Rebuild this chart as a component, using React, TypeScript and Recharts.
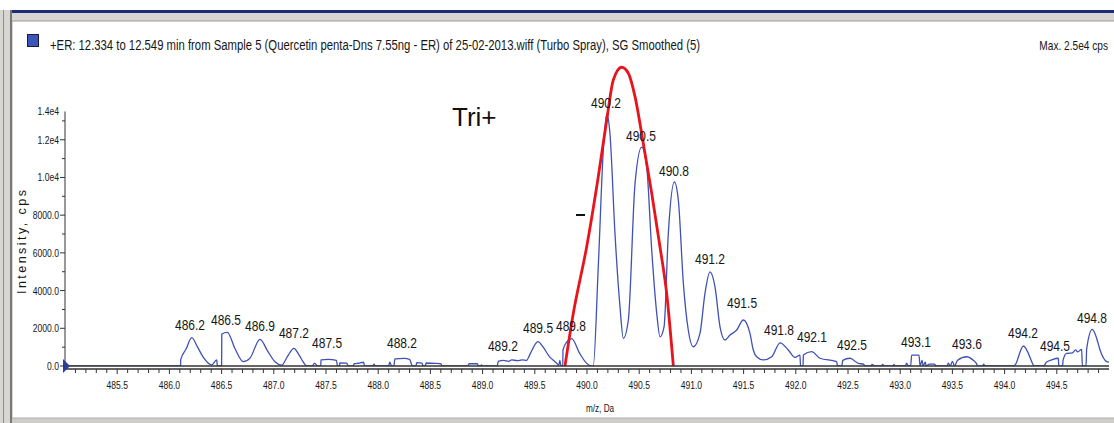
import React from 'react';
import {
  ComposedChart,
  Line,
  Scatter,
  XAxis,
  YAxis,
  ReferenceLine,
  ReferenceDot,
} from 'recharts';

// smoothed spectrum, [m/z, cps]
const spectrum: [number, number][] = [
  [485.0, 0], [486.107, 0], [486.108, 320], [486.16, 900], [486.214, 1500], [486.27, 1000],
  [486.322, 490], [486.405, 60], [486.453, 320], [486.46, 0], [486.5, 0], [486.502, 1700],
  [486.555, 1780], [486.63, 900], [486.708, 230], [486.772, 420], [486.868, 1410], [486.94, 800],
  [487.011, 230], [487.076, 50], [487.13, 500], [487.193, 940], [487.24, 600], [487.28, 230],
  [487.315, 0], [487.37, 0], [487.39, 150], [487.42, 0], [487.45, 0], [487.452, 330],
  [487.52, 350], [487.6, 300], [487.61, 0], [487.63, 0], [487.632, 160], [487.7, 150],
  [487.71, 0], [487.76, 0], [487.77, 120], [487.82, 150], [487.86, 200], [487.87, 0],
  [487.95, 0], [487.96, 100], [487.97, 0], [488.1, 0], [488.11, 200], [488.13, 0],
  [488.15, 0], [488.16, 380], [488.25, 400], [488.3, 350], [488.33, 0], [488.36, 0],
  [488.37, 180], [488.42, 150], [488.43, 0], [488.45, 0], [488.46, 160], [488.55, 140],
  [488.6, 120], [488.61, 0], [488.86, 0], [488.87, 120], [488.95, 120], [488.96, 0],
  [488.98, 0], [488.99, 60], [489.0, 0], [489.14, 0], [489.15, 250], [489.2, 300],
  [489.25, 250], [489.28, 330], [489.33, 280], [489.38, 320], [489.42, 300], [489.46, 700],
  [489.53, 1290], [489.58, 1000], [489.64, 500], [489.7, 200], [489.73, 50], [489.74, 300],
  [489.75, 0], [489.768, 0], [489.77, 850], [489.81, 1300], [489.853, 1450], [489.93, 670],
  [489.997, 140], [490.04, 0], [490.06, 0], [490.108, 5260], [490.156, 11430], [490.189, 13380],
  [490.22, 12320], [490.268, 7030], [490.316, 3140], [490.348, 1470], [490.396, 2440], [490.46, 9670],
  [490.524, 11610], [490.572, 10550], [490.62, 6140], [490.668, 2790], [490.699, 1550], [490.738, 2080],
  [490.779, 7030], [490.837, 9760], [490.875, 8790], [490.923, 4380], [490.97, 1910], [491.018, 1020],
  [491.082, 1730], [491.13, 3850], [491.178, 4990], [491.226, 4200], [491.274, 2080], [491.322, 1380],
  [491.37, 1640], [491.434, 1910], [491.497, 2440], [491.561, 1730], [491.593, 850], [491.625, 490],
  [491.689, 320], [491.769, 490], [491.849, 1230], [491.928, 850], [491.992, 460], [492.04, 580],
  [492.045, 0], [492.07, 0], [492.072, 580], [492.152, 760], [492.232, 410], [492.391, 230],
  [492.4, 0], [492.44, 0], [492.45, 300], [492.519, 410], [492.599, 140], [492.65, 100],
  [492.66, 0], [492.72, 0], [492.73, 80], [492.76, 0], [492.82, 0], [492.83, 80],
  [492.85, 0], [492.93, 0], [492.94, 80], [492.95, 0], [493.05, 0], [493.06, 150],
  [493.08, 0], [493.1, 0], [493.11, 580], [493.18, 580], [493.19, 0], [493.21, 300],
  [493.22, 0], [493.24, 200], [493.25, 0], [493.28, 100], [493.33, 100], [493.34, 0],
  [493.45, 0], [493.46, 150], [493.48, 0], [493.5, 250], [493.52, 0], [493.55, 300],
  [493.637, 490], [493.7, 300], [493.733, 100], [493.74, 0], [493.79, 0], [493.8, 100],
  [493.81, 0], [494.09, 0], [494.1, 50], [494.18, 1060], [494.275, 50], [494.28, 0],
  [494.37, 0], [494.387, 80], [494.4, 200], [494.45, 320], [494.514, 410], [494.52, 0],
  [494.555, 0], [494.56, 300], [494.594, 670], [494.65, 700], [494.68, 850], [494.7, 750],
  [494.738, 880], [494.745, 0], [494.78, 0], [494.786, 900], [494.84, 1940], [494.88, 1500],
  [494.914, 850], [494.978, 230], [495.0, 200],
];

// red hand-drawn envelope over the Tri+ cluster
const envelope: [number, number][] = [
  [489.789, 0], [489.869, 2796], [489.997, 6329], [490.108, 10042], [490.189, 13050],
  [490.252, 15172], [490.332, 15846], [490.396, 15528], [490.46, 14286], [490.539, 11814],
  [490.62, 9162], [490.699, 6329], [490.763, 3857], [490.827, 0],
];

// peak annotations: label position (m/z, cps) and text
const peakMz = [
  486.197, 486.542, 486.868, 487.193, 487.51, 488.228, 489.195, 489.531, 489.847, 490.182, 490.517,
  490.833, 491.178, 491.485, 491.839, 492.155, 492.538, 493.151, 493.64, 494.176, 494.483, 494.837,
];
const peakCps = [
  1910, 2175, 1857, 1485, 955, 955, 796, 1751, 1857, 13687, 11936,
  10080, 5411, 3077, 1645, 1273, 849, 1008, 902, 1485, 796, 2281,
];
const peakText = [
  '486.2', '486.5', '486.9', '487.2', '487.5', '488.2', '489.2', '489.5', '489.8', '490.2', '490.5',
  '490.8', '491.2', '491.5', '491.8', '492.1', '492.5', '493.1', '493.6', '494.2', '494.5', '494.8',
];

const xTickLabels = [
  '485.5', '486.0', '486.5', '487.0', '487.5', '488.0', '488.5', '489.0', '489.5', '490.0',
  '490.5', '491.0', '491.5', '492.0', '492.5', '493.0', '493.5', '494.0', '494.5',
];
const yTickValues = [0, 2000, 4000, 6000, 8000, 10000, 12000, 13500];
const yTickLabels = ['0.0', '2000.0', '4000.0', '6000.0', '8000.0', '1.0e4', '1.2e4', '1.4e4'];
const yMinorTicks = [1000, 3000, 5000, 7000, 9000, 11000, 13000];

const spectrumData = spectrum.map(([mz, cps]) => ({ mz, cps }));
const envelopeData = envelope.map(([mz, cps]) => ({ mz, cps }));
const labelData = peakMz.map((mz, i) => ({ mz, cps: peakCps[i], text: peakText[i] }));

const xTicks: number[] = [];
for (let k = 1; k < 100; k++) xTicks.push(Math.round((485 + k * 0.1) * 10) / 10);
const yTicks = [...yTickValues, ...yMinorTicks].sort((a, b) => a - b);

const FONT = '"Liberation Sans", Arial, sans-serif';
const INK = '#161616';

const XTick = (props: any) => {
  const { x, y, payload } = props;
  const v = payload.value;
  const lbl = xTickLabels.find((s) => Math.abs(Number(s) - v) < 1e-6);
  return (
    <g>
      <line x1={x} x2={x} y1={y} y2={y + (lbl ? 5 : 4)} stroke='#333' />
      {lbl && (
        <text
          transform={`translate(${x},${y + 20}) scale(0.78,1)`}
          textAnchor='middle'
          fontSize={11}
          fontFamily={FONT}
          fill={INK}
        >
          {lbl}
        </text>
      )}
    </g>
  );
};

const YTick = (props: any) => {
  const { x, y, payload } = props;
  const idx = yTickValues.indexOf(payload.value);
  if (idx < 0) {
    return <line x1={x - 3} x2={x} y1={y} y2={y} stroke='#333' />;
  }
  const top = payload.value === 13500;
  return (
    <g>
      {!top && <line x1={x - 5} x2={x} y1={y} y2={y} stroke='#333' />}
      <text
        transform={`translate(${x - 6},${y + 4}) scale(0.78,1)`}
        textAnchor='end'
        fontSize={11}
        fontFamily={FONT}
        fill={INK}
      >
        {yTickLabels[idx]}
      </text>
    </g>
  );
};

const PeakLabel = (props: any) => {
  const { cx, cy, payload } = props;
  return (
    <text
      transform={`translate(${cx},${cy}) scale(0.8,1)`}
      textAnchor='middle'
      fontSize={15}
      fontFamily={FONT}
      fill={INK}
    >
      {payload.text}
    </text>
  );
};

const OriginMark = (props: any) => {
  const { cx, cy } = props;
  return <path d={`M${cx - 2},${cy - 7} L${cx + 5},${cy} L${cx - 2},${cy + 7} Z`} fill='#2a3d9c' />;
};

function Frame() {
  return (
    <svg width={1114} height={423} style={{ position: 'absolute', left: 0, top: 0 }}>
      <rect x={0} y={0} width={1114} height={423} fill='#fff' />
      {/* window chrome */}
      <rect x={0} y={10} width={13} height={413} fill='#d8d6d2' />
      <line x1={3.5} y1={10} x2={3.5} y2={423} stroke='#8c8c8c' />
      <line x1={11} y1={10} x2={11} y2={423} stroke='#777' strokeWidth={2} />
      <rect x={12} y={10} width={1102} height={3} fill='#1e2b7a' />
      <rect x={12} y={13} width={1102} height={8} fill='#d8d6d2' />
      <line x1={12} y1={21} x2={1114} y2={21} stroke='#9a9a9a' />
      <rect x={12} y={418} width={1102} height={5} fill='#cfcdc9' />
      <line x1={12} y1={418} x2={1114} y2={418} stroke='#b0b0b0' />
      {/* header */}
      <rect x={27.5} y={34.5} width={11} height={12} fill='#3b55b8' stroke='#1b1b3a' />
      <text x={50} y={50} fontSize={14} fontFamily={FONT} fill={INK} textLength={650} lengthAdjust='spacingAndGlyphs'>
        +ER: 12.334 to 12.549 min from Sample 5 (Quercetin penta-Dns 7.55ng - ER) of 25-02-2013.wiff (Turbo Spray), SG Smoothed (5)
      </text>
      <text transform='translate(1108,50) scale(0.78,1)' textAnchor='end' fontSize={13} fontFamily={FONT} fill={INK}>
        Max. 2.5e4 cps
      </text>
      {/* annotations */}
      <text x={452} y={126} fontSize={26} fontFamily={FONT} fill='#111'>
        Tri+
      </text>
      <line x1={576} x2={585} y1={215} y2={215} stroke='#111' strokeWidth={2} />
      {/* axis titles */}
      <text
        x={0}
        y={0}
        transform='translate(26,242) rotate(-90)'
        textAnchor='middle'
        fontSize={12.5}
        fontFamily={FONT}
        fill={INK}
        textLength={104}
        lengthAdjust='spacing'
      >
        Intensity, cps
      </text>
      <text transform='translate(600,412) scale(0.82,1)' textAnchor='middle' fontSize={10} fontFamily={FONT} fill={INK}>
        m/z, Da
      </text>
    </svg>
  );
}

export default function App() {
  return (
    <div style={{ position: 'absolute', left: 0, top: 0, width: 1114, height: 423, overflow: 'hidden' }}>
      <Frame />
      <ComposedChart
        width={1114}
        height={423}
        margin={{ top: 60, right: 5, bottom: 21, left: 0 }}
        style={{ position: 'absolute', left: 0, top: 0 }}
      >
        <XAxis
          xAxisId='line'
          type='number'
          dataKey='mz'
          domain={[485, 495]}
          allowDataOverflow
          height={3}
          tick={false}
          tickLine={false}
          axisLine={{ stroke: '#333', strokeWidth: 1.5 }}
        />
        <XAxis
          xAxisId='ticks'
          type='number'
          dataKey='mz'
          domain={[485, 495]}
          allowDataOverflow
          height={33}
          ticks={xTicks}
          interval={0}
          tickSize={0}
          tickMargin={0}
          tickLine={false}
          tick={<XTick />}
          axisLine={{ stroke: '#333', strokeWidth: 1.5 }}
        />
        <YAxis
          type='number'
          dataKey='cps'
          domain={[0, 16230]}
          allowDataOverflow
          width={65}
          ticks={yTicks}
          interval={0}
          tickSize={0}
          tickMargin={0}
          tickLine={false}
          axisLine={false}
          tick={<YTick />}
        />
        <ReferenceLine
          xAxisId='line'
          segment={[{ x: 485, y: 0 }, { x: 485, y: 13500 }]}
          stroke='#333'
        />
        <Line
          xAxisId='line'
          data={spectrumData}
          dataKey='cps'
          type='monotone'
          stroke='#3f51b5'
          strokeWidth={1.3}
          dot={false}
          isAnimationActive={false}
        />
        <Line
          xAxisId='line'
          data={envelopeData}
          dataKey='cps'
          type='monotone'
          stroke='#e8141b'
          strokeWidth={2.8}
          dot={false}
          isAnimationActive={false}
        />
        <Scatter
          xAxisId='line'
          data={labelData}
          dataKey='cps'
          shape={<PeakLabel />}
          isAnimationActive={false}
        />
        <ReferenceDot xAxisId='line' x={485} y={0} r={0} shape={<OriginMark />} />
      </ComposedChart>
    </div>
  );
}
